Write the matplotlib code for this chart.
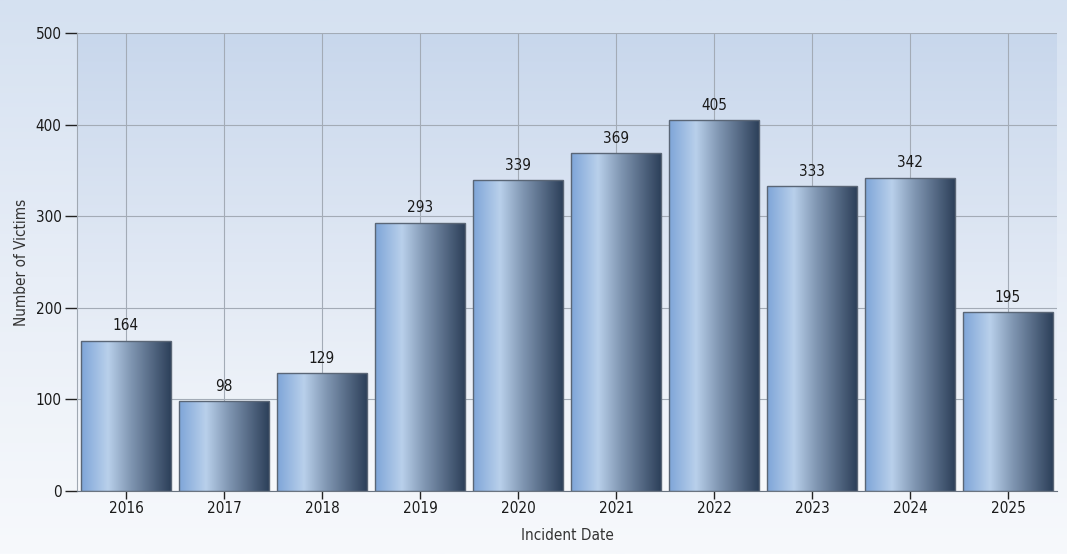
import matplotlib.pyplot as plt
import numpy as np
from matplotlib.colors import LinearSegmentedColormap

years = ['2016', '2017', '2018', '2019', '2020', '2021', '2022', '2023', '2024', '2025']
victims = [164, 98, 129, 293, 339, 369, 405, 333, 342, 195]

plt.rcParams['font.family'] = ['DejaVu Sans']
plt.rcParams['font.stretch'] = 'condensed'

W, H = 1067, 554
fig = plt.figure(figsize=(W / 100, H / 100), dpi=100)

# figure background gradient
bg = fig.add_axes([0, 0, 1, 1], zorder=-10)
bg_cmap = LinearSegmentedColormap.from_list('bg', ['#d5e1f1', '#e8eef7', '#f7f9fc'])
bg.imshow(np.linspace(0, 1, 256).reshape(-1, 1), aspect='auto', cmap=bg_cmap,
          extent=[0, 1, 0, 1], origin='upper')
bg.axis('off')

left, right, top, bottom = 77, 1057, 33, 491
ax = fig.add_axes([left / W, 1 - bottom / H, (right - left) / W, (bottom - top) / H])
ax.set_facecolor('none')

x = np.arange(len(years))
ax.set_xlim(-0.5, len(years) - 0.5)

# plot area gradient (darker at the top)
pa_cmap = LinearSegmentedColormap.from_list('pa', ['#c8d7ec', '#e0e8f4', '#f7f9fc'])
ax.imshow(np.linspace(0, 1, 256).reshape(-1, 1), aspect='auto', cmap=pa_cmap,
          extent=[-0.5, len(years) - 0.5, 0, 500], origin='upper', zorder=0)
ax.set_ylim(0, 500)

ax.grid(True, color='#a3abb6', linewidth=0.8, zorder=1)
ax.set_axisbelow(True)

bars = ax.bar(x, victims, width=0.91, facecolor='none', edgecolor='#5a6676',
              linewidth=1.0, zorder=3)

bar_cmap = LinearSegmentedColormap.from_list(
    'bar', [(0, '#7ea5d8'), (0.3, '#b9d0eb'), (0.55, '#8197b3'), (1, '#2d405a')])
grad = np.linspace(0, 1, 256).reshape(1, -1)
for b in bars:
    bx, by, bw, bh = b.get_x(), b.get_y(), b.get_width(), b.get_height()
    im = ax.imshow(grad, aspect='auto', cmap=bar_cmap,
                   extent=[bx, bx + bw, by, by + bh], zorder=2)
    im.set_clip_path(b)

for xi, v in zip(x, victims):
    ax.text(xi, v + 8, str(v), ha='center', va='bottom', fontsize=11, color='#1a1a1a')

ax.set_xticks(x)
ax.set_xticklabels(years)
ax.set_yticks(range(0, 501, 100))
ax.tick_params(axis='both', direction='out', length=6, width=1, color='#222222',
               labelsize=11, labelcolor='#1a1a1a')
ax.tick_params(axis='x', pad=1)
ax.tick_params(axis='y', length=9, pad=2)

for s in ['top', 'right']:
    ax.spines[s].set_visible(False)
ax.spines['left'].set_color('#a0a8b2')
ax.spines['bottom'].set_color('#6a7480')

ax.set_xlabel('Incident Date', fontsize=11, color='#333333', labelpad=9)
ax.set_ylabel('Number of Victims', fontsize=11, color='#333333', labelpad=5)

fig.savefig('out.png', dpi=100)
